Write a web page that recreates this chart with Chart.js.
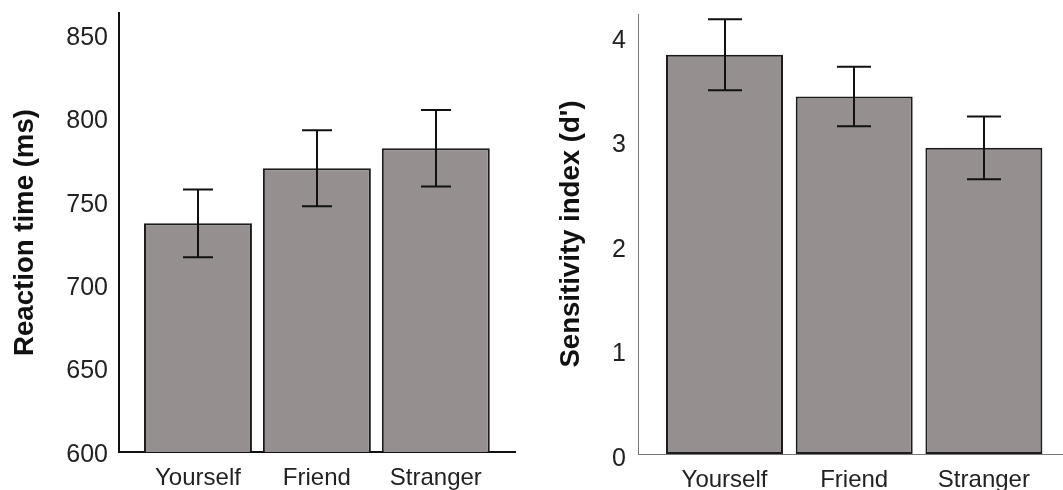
<!DOCTYPE html>
<html lang="en">

<head>
  <meta charset="UTF-8">
  <title>Reaction time and sensitivity by condition</title>
  <!-- Chart.js from the CDN -->
  <script src="https://cdn.jsdelivr.net/npm/chart.js"></script>
  <style>
    body { margin: 0; background: #fff; width: 1063px; height: 490px; overflow: hidden; position: relative; }
    canvas { position: absolute; top: 0; }
    #tempo { left: 0; }
    #sensib { left: 535px; }
  </style>
</head>

<body>
  <canvas id="tempo" width="535" height="490"></canvas>
  <canvas id="sensib" width="528" height="490"></canvas>

<script>
  // data
  var categorias = ['Yourself', 'Friend', 'Stranger'];

  var tempoReacao = [737, 770, 782];
  var erroTempo = [20.3, 22.7, 22.9];
  var ticksTempo = [600, 650, 700, 750, 800, 850];

  var sensibilidade = [3.82, 3.42, 2.93];
  var erroSens = [0.34, 0.285, 0.30];
  var ticksSens = [0, 1, 2, 3, 4];

  var fonte = '"Liberation Sans", Arial, sans-serif';

  // draws the error bars (mean +/- err) on top of the bars
  var barrasErro = {
    id: 'barrasErro',
    afterDatasetsDraw: function (chart, args, opts) {
      var ctx = chart.ctx;
      var escX = chart.scales.x;
      var escY = chart.scales.y;
      var pontos = chart.data.datasets[0].data;
      ctx.save();
      ctx.strokeStyle = '#111';
      ctx.lineWidth = 2;
      for (var i = 0; i < pontos.length; i++) {
        var px = Math.round(escX.getPixelForValue(pontos[i].x));
        var cima = escY.getPixelForValue(pontos[i].y + opts.erro[i]);
        var baixo = escY.getPixelForValue(pontos[i].y - opts.erro[i]);
        ctx.beginPath();
        ctx.moveTo(px, cima);
        ctx.lineTo(px, baixo);
        ctx.moveTo(px - opts.cap, cima);
        ctx.lineTo(px + opts.cap, cima);
        ctx.moveTo(px - opts.cap, baixo);
        ctx.lineTo(px + opts.cap, baixo);
        ctx.stroke();
      }
      ctx.restore();
    }
  };

  function plotarGrafico(id, valores, erros, ticks, cfg) {
    var dados = [];
    for (var i = 0; i < categorias.length; i++) {
      dados.push({ x: i, y: valores[i] });
    }

    new Chart(document.getElementById(id), {
      type: 'bar',
      data: {
        datasets: [{
          data: dados,
          backgroundColor: '#958f8f',
          borderColor: '#1c1c1c',
          borderWidth: 2,
          borderSkipped: false,
          categoryPercentage: 1,
          barPercentage: cfg.barra
        }]
      },
      options: {
        responsive: false,
        animation: false,
        layout: { padding: { top: cfg.topo, right: cfg.direita, left: 0, bottom: 0 } },
        plugins: {
          legend: { display: false },
          tooltip: { enabled: false },
          barrasErro: { erro: erros, cap: cfg.cap }
        },
        scales: {
          x: {
            type: 'linear',
            min: cfg.xMin,
            max: cfg.xMax,
            offset: false,
            afterBuildTicks: function (s) {
              s.ticks = categorias.map(function (c, k) { return { value: k }; });
            },
            afterFit: function (s) {
              s.height = cfg.altX;
              s.paddingLeft = 0;
              s.paddingRight = 0;
            },
            grid: { display: false, drawTicks: false, offset: false },
            border: { color: cfg.corEixo, width: cfg.larguraEixo },
            ticks: {
              padding: 12,
              autoSkip: false,
              maxRotation: 0,
              color: '#222',
              font: { family: fonte, size: 24 },
              callback: function (v) { return categorias[v]; }
            }
          },
          y: {
            min: ticks[0],
            max: cfg.yMax,
            afterBuildTicks: function (s) {
              s.ticks = ticks.map(function (v) { return { value: v }; });
            },
            afterFit: function (s) {
              s.width = cfg.largY;
              s.paddingTop = 0;
              s.paddingBottom = 0;
            },
            grid: { display: false, drawTicks: false },
            border: { color: cfg.corEixo, width: cfg.larguraEixo },
            ticks: {
              padding: cfg.padTick,
              labelOffset: cfg.descTick,
              color: '#222',
              font: { family: fonte, size: 25 }
            },
            title: {
              display: true,
              text: cfg.titulo,
              color: '#111',
              font: { family: fonte, size: 27.6, weight: 'bold', lineHeight: 1.2 },
              padding: { top: cfg.padTitulo, bottom: 0 }
            }
          }
        }
      },
      plugins: [barrasErro]
    });
  }

  plotarGrafico('tempo', tempoReacao, erroTempo, ticksTempo, {
    titulo: 'Reaction time (ms)',
    yMax: 863, xMin: -0.664, xMax: 2.666,
    topo: 13, direita: 20, altX: 38, largY: 119,
    padTick: 11, descTick: 3, padTitulo: 8.5, barra: 0.908, cap: 15,
    corEixo: '#111', larguraEixo: 2
  });

  plotarGrafico('sensib', sensibilidade, erroSens, ticksSens, {
    titulo: "Sensitivity index (d')",
    yMax: 4.21, xMin: -0.667, xMax: 2.61,
    topo: 14, direita: 0, altX: 36, largY: 103,
    padTick: 12, descTick: 5, padTitulo: 20, barra: 0.902, cap: 17,
    corEixo: '#777', larguraEixo: 1
  });
</script>
</body>

</html>
